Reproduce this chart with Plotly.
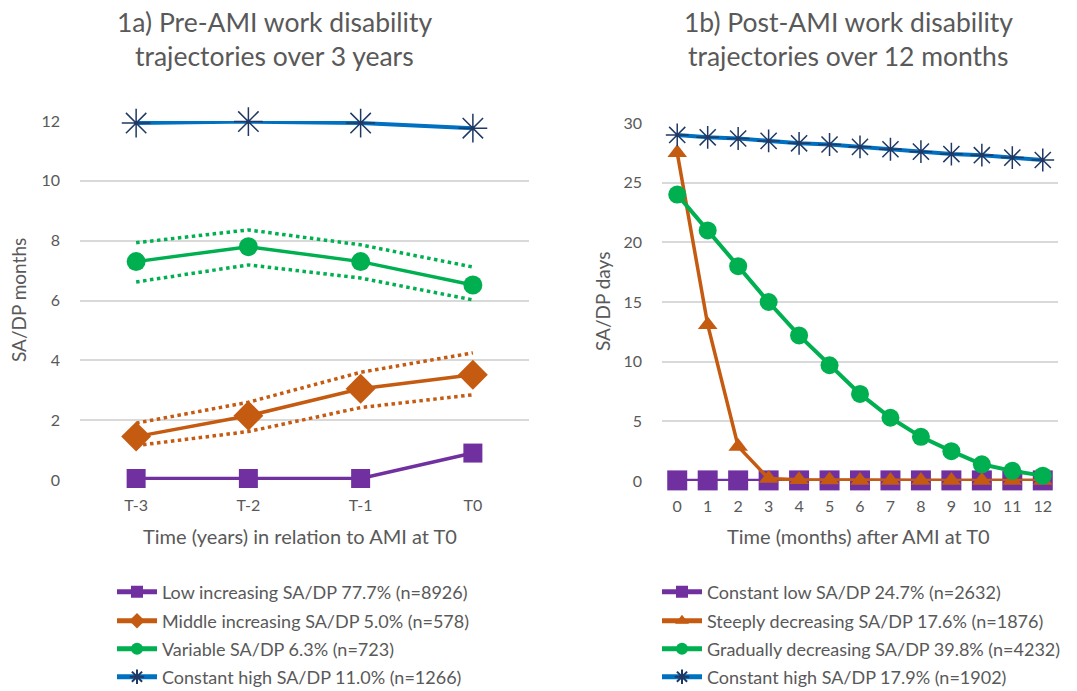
import plotly.graph_objects as go

# ---------------- data ----------------
pre_labels = ["T-3", "T-2", "T-1", "T0"]
pre_low = [0.05, 0.05, 0.05, 0.9]
pre_mid = [1.45, 2.15, 3.05, 3.52]
pre_mid_hi = [1.9, 2.6, 3.6, 4.25]
pre_mid_lo = [1.15, 1.62, 2.42, 2.85]
pre_var = [7.3, 7.8, 7.3, 6.52]
pre_var_hi = [7.93, 8.36, 7.86, 7.12]
pre_var_lo = [6.62, 7.19, 6.75, 6.02]
pre_high = [11.93, 11.98, 11.93, 11.76]

post_labels = [str(i) for i in range(13)]
post_low = [0.05] * 13
post_steep = [27.5, 13.1, 2.9, 0.2, 0.1, 0.08, 0.05, 0.05, 0.05, 0.05, 0.05, 0.05, 0.05]
post_grad = [24.0, 21.0, 18.0, 15.0, 12.2, 9.7, 7.3, 5.3, 3.7, 2.5, 1.4, 0.85, 0.45]
post_high = [29.0, 28.8, 28.7, 28.5, 28.3, 28.2, 28.0, 27.8, 27.6, 27.4, 27.3, 27.1, 26.9]

pre_names = ["Low increasing SA/DP 77.7% (n=8926)",
             "Middle increasing SA/DP 5.0% (n=578)",
             "Variable SA/DP 6.3% (n=723)",
             "Constant high SA/DP 11.0% (n=1266)"]
post_names = ["Constant low SA/DP 24.7% (n=2632)",
              "Steeply decreasing SA/DP 17.6% (n=1876)",
              "Gradually decreasing SA/DP 39.8% (n=4232)",
              "Constant high SA/DP 17.9% (n=1902)"]

PURPLE = "#7030A0"
ORANGE = "#C55A11"
GREEN = "#00B050"
BLUE = "#0070C0"
NAVY = "#1F3864"
TXT = "#595959"
GRID = "#D9D9D9"
FONT = "Lato"

W, H = 1077, 691
def px(xp):
    return xp / W
def py(yp):
    return 1 - yp / H

fig = go.Figure()
xl = list(range(len(pre_labels)))
xr = list(range(len(post_labels)))

def ci(x, y, color, xa, ya):
    fig.add_trace(go.Scatter(x=x, y=y, mode="lines", xaxis=xa, yaxis=ya,
                             line=dict(color=color, width=3.5, dash="dot"),
                             showlegend=False, hoverinfo="skip", cliponaxis=False))

# ---- left panel ----
ci(xl, pre_mid_hi, ORANGE, "x", "y")
ci(xl, pre_mid_lo, ORANGE, "x", "y")
ci(xl, pre_var_hi, GREEN, "x", "y")
ci(xl, pre_var_lo, GREEN, "x", "y")

left_specs = [
    (pre_low, PURPLE, dict(symbol="square", size=19, color=PURPLE), 3.5),
    (pre_mid, ORANGE, dict(symbol="diamond", size=23, color=ORANGE), 3.5),
    (pre_var, GREEN, dict(symbol="circle", size=19, color=GREEN), 3.5),
    (pre_high, BLUE, dict(symbol="asterisk-open", size=24, color=NAVY,
                          line=dict(color=NAVY, width=1.5)), 4),
]
right_specs = [
    (post_low, PURPLE, dict(symbol="square", size=20, color=PURPLE), 3.5),
    (post_steep, ORANGE, dict(symbol="triangle-up", size=17, color=ORANGE), 3.5),
    (post_grad, GREEN, dict(symbol="circle", size=18, color=GREEN), 4),
    (post_high, BLUE, dict(symbol="asterisk-open", size=19, color=NAVY,
                           line=dict(color=NAVY, width=1.5)), 4),
]

legend_rows = [592, 621, 649, 677]
legend_layout = {}
lg = 1
for i, (ys, col, mk, lw) in enumerate(left_specs):
    key = "legend" if lg == 1 else f"legend{lg}"
    fig.add_trace(go.Scatter(x=xl, y=ys, name=pre_names[i], mode="lines+markers",
                             xaxis="x", yaxis="y", legend=key, cliponaxis=False,
                             line=dict(color=col, width=lw), marker=mk))
    legend_layout[key] = dict(x=px(112), y=py(legend_rows[i]), xanchor="left", yanchor="middle",
                              font=dict(family=FONT, size=18, color=TXT),
                              itemwidth=40, itemsizing="constant", bgcolor="rgba(0,0,0,0)")
    lg += 1
for i, (ys, col, mk, lw) in enumerate(right_specs):
    key = f"legend{lg}"
    fig.add_trace(go.Scatter(x=xr, y=ys, name=post_names[i], mode="lines+markers",
                             xaxis="x2", yaxis="y2", legend=key, cliponaxis=False,
                             line=dict(color=col, width=lw), marker=mk))
    legend_layout[key] = dict(x=px(657), y=py(legend_rows[i]), xanchor="left", yanchor="middle",
                              font=dict(family=FONT, size=18, color=TXT),
                              itemwidth=40, itemsizing="constant", bgcolor="rgba(0,0,0,0)")
    lg += 1

TICK = dict(family=FONT, size=16, color=TXT)
axis_common = dict(showgrid=False, zeroline=False, showline=False, ticks="",
                   tickfont=TICK, fixedrange=True, ticklabelstandoff=14)

fig.update_layout(
    width=W, height=H,
    margin=dict(l=0, r=0, t=0, b=0, autoexpand=False),
    paper_bgcolor="white", plot_bgcolor="white",
    font=dict(family=FONT, color=TXT),
    xaxis=dict(domain=[px(80), px(529)], range=[-0.5, 3.5], tickvals=xl, ticktext=pre_labels,
               anchor="y", **axis_common),
    yaxis=dict(domain=[py(480), py(121)], range=[0, 12], dtick=2, anchor="x",
               showgrid=True, gridcolor=GRID, gridwidth=1.5, zeroline=False, showline=False,
               ticks="", ticklabelstandoff=19, tickfont=TICK, fixedrange=True),
    xaxis2=dict(domain=[px(662), px(1058)], range=[-0.5, 12.5], tickvals=xr, ticktext=post_labels,
                anchor="y2", **axis_common),
    yaxis2=dict(domain=[py(481), py(123)], range=[0, 30], dtick=5, anchor="x2",
                showgrid=True, gridcolor=GRID, gridwidth=1.5, zeroline=False, showline=False,
                ticks="", ticklabelstandoff=19, tickfont=TICK, fixedrange=True),
    showlegend=True,
    **legend_layout,
)

ann = [
    dict(text="1a) Pre-AMI work disability", x=px(274), y=py(22), font=dict(size=26.5)),
    dict(text="trajectories over 3 years", x=px(274), y=py(56), font=dict(size=26.5)),
    dict(text="1b) Post-AMI work disability", x=px(848), y=py(22), font=dict(size=26.5)),
    dict(text="trajectories over 12 months", x=px(848), y=py(56), font=dict(size=26.5)),
    dict(text="Time (years) in relation to AMI at T0", x=px(300), y=py(536), font=dict(size=20)),
    dict(text="Time (months) after AMI at T0", x=px(858), y=py(536), font=dict(size=20)),
    dict(text="SA/DP months", x=px(18), y=py(300), textangle=-90, font=dict(size=19)),
    dict(text="SA/DP days", x=px(602), y=py(302), textangle=-90, font=dict(size=19)),
]
for a in ann:
    a.update(xref="paper", yref="paper", showarrow=False, xanchor="center", yanchor="middle")
    a["font"].update(family=FONT, color=TXT)
    fig.add_annotation(**a)

fig.write_html("out.html", config={"displayModeBar": False},
               post_script="document.body.style.margin='0px';")
